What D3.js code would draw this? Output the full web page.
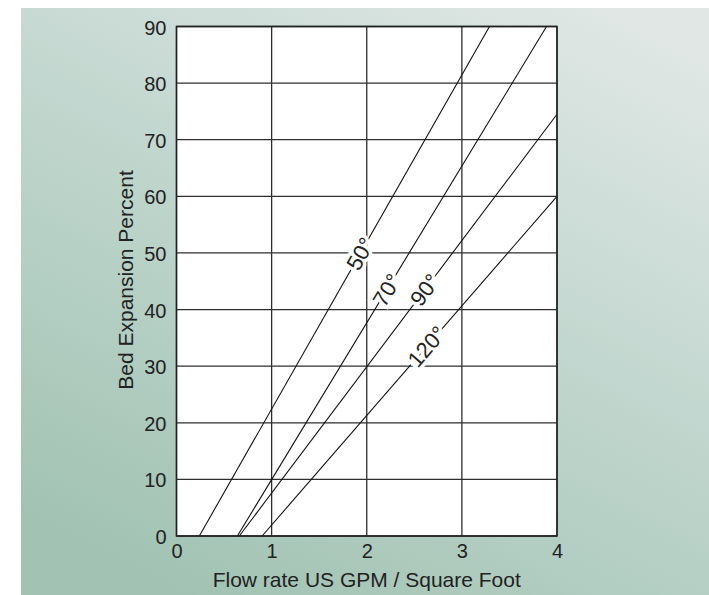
<!DOCTYPE html>
<html>
<head>
<meta charset="utf-8">
<script src="https://cdn.jsdelivr.net/npm/d3@7"></script>
<style>
  html, body { margin: 0; padding: 0; background: #fff; }
  svg { display: block; font-family: "Liberation Sans", Arial, sans-serif; }
</style>
</head>
<body>
<div id="chart"></div>
<script>
// Data
const temps = ["50°", "70°", "90°", "120°"];
// flow rate where each line starts (0 % expansion)
const startFlow = [0.24, 0.64, 0.66, 0.90];
// end point of each line [flow, expansion]
const endFlow = [3.29, 3.89, 4.0, 4.0];
const endExpansion = [90, 90, 74.5, 60];
// where the temperature label sits along each line (flow)
const labelFlow = [1.93, 2.21, 2.61, 2.63];

const xTicks = [0, 1, 2, 3, 4];
const yTicks = [0, 10, 20, 30, 40, 50, 60, 70, 80, 90];

const W = 709, H = 595;
const plot = { left: 176.5, right: 557, top: 26.5, bottom: 536 };
const FONT = "Liberation Sans, Arial, sans-serif";

const svg = d3.select("#chart").append("svg")
    .attr("width", W)
    .attr("height", H);

// background panel gradient
const grad = svg.append("defs").append("linearGradient")
    .attr("id", "bg")
    .attr("x1", "0.85").attr("y1", "0")
    .attr("x2", "0.25").attr("y2", "1");
grad.append("stop").attr("offset", "0").attr("stop-color", "#e0e7e5");
grad.append("stop").attr("offset", "0.45").attr("stop-color", "#c2d7cf");
grad.append("stop").attr("offset", "1").attr("stop-color", "#a2c3b3");

svg.append("rect")
    .attr("x", 21).attr("y", 8)
    .attr("width", W - 21).attr("height", H - 8)
    .attr("fill", "url(#bg)");

const x = d3.scaleLinear().domain([0, 4]).range([plot.left, plot.right]);
const y = d3.scaleLinear().domain([0, 90]).range([plot.bottom, plot.top]);

// white plot area
svg.append("rect")
    .attr("x", x(0)).attr("y", y(90))
    .attr("width", x(4) - x(0)).attr("height", y(0) - y(90))
    .attr("fill", "#fff");

// grid
const grid = svg.append("g").attr("stroke", "#2e2e2e").attr("stroke-width", 1.3);
grid.selectAll(".gx").data(xTicks).enter().append("line")
    .attr("x1", d => x(d)).attr("x2", d => x(d))
    .attr("y1", y(0)).attr("y2", y(90));
grid.selectAll(".gy").data(yTicks).enter().append("line")
    .attr("x1", x(0)).attr("x2", x(4))
    .attr("y1", d => y(d)).attr("y2", d => y(d));

// expansion lines
const lines = temps.map((t, i) => ({
    name: t,
    pts: [[startFlow[i], 0], [endFlow[i], endExpansion[i]]],
    lx: labelFlow[i]
}));

const lineGen = d3.line().x(d => x(d[0])).y(d => y(d[1]));

svg.append("g").selectAll("path").data(lines).enter().append("path")
    .attr("d", d => lineGen(d.pts))
    .attr("fill", "none")
    .attr("stroke", "#111")
    .attr("stroke-width", 1.1);

// rotated labels with a white knock-out behind them
svg.append("g").selectAll("text").data(lines).enter().append("text")
    .each(function(d) {
        const [p0, p1] = d.pts;
        const t = (d.lx - p0[0]) / (p1[0] - p0[0]);
        const ly = p0[1] + t * (p1[1] - p0[1]);
        const ang = Math.atan2(y(p1[1]) - y(p0[1]), x(p1[0]) - x(p0[0])) * 180 / Math.PI;
        d3.select(this)
            .attr("transform", `translate(${x(d.lx)},${y(ly)}) rotate(${ang})`);
    })
    .attr("text-anchor", "middle")
    .attr("dy", "0.36em")
    .attr("font-size", 22)
    .attr("fill", "#222")
    .attr("stroke", "#fff")
    .attr("stroke-width", 7)
    .attr("paint-order", "stroke")
    .text(d => d.name);

// outer border
svg.append("rect")
    .attr("x", x(0)).attr("y", y(90))
    .attr("width", x(4) - x(0)).attr("height", y(0) - y(90))
    .attr("fill", "none")
    .attr("stroke", "#222")
    .attr("stroke-width", 1.5);

// axes (tick labels only)
const xAxis = svg.append("g")
    .attr("transform", `translate(0,${y(0)})`)
    .call(d3.axisBottom(x).tickValues(xTicks).tickFormat(d3.format("d"))
        .tickSize(0).tickPadding(8));
const yAxis = svg.append("g")
    .attr("transform", `translate(${x(0)},0)`)
    .call(d3.axisLeft(y).tickValues(yTicks).tickFormat(d3.format("d"))
        .tickSize(0).tickPadding(10));

[xAxis, yAxis].forEach(a => {
    a.select(".domain").remove();
    a.attr("font-family", FONT).attr("font-size", 20);
    a.selectAll("text").attr("fill", "#222");
});
yAxis.selectAll("text").attr("dy", "0.38em");

// axis titles
svg.append("text")
    .attr("x", (x(0) + x(4)) / 2)
    .attr("y", 587)
    .attr("text-anchor", "middle")
    .attr("font-size", 21)
    .attr("fill", "#222")
    .text("Flow rate US GPM / Square Foot");

svg.append("text")
    .attr("transform", `translate(133,280) rotate(-90)`)
    .attr("text-anchor", "middle")
    .attr("font-size", 21)
    .attr("fill", "#222")
    .text("Bed Expansion Percent");
</script>
</body>
</html>
